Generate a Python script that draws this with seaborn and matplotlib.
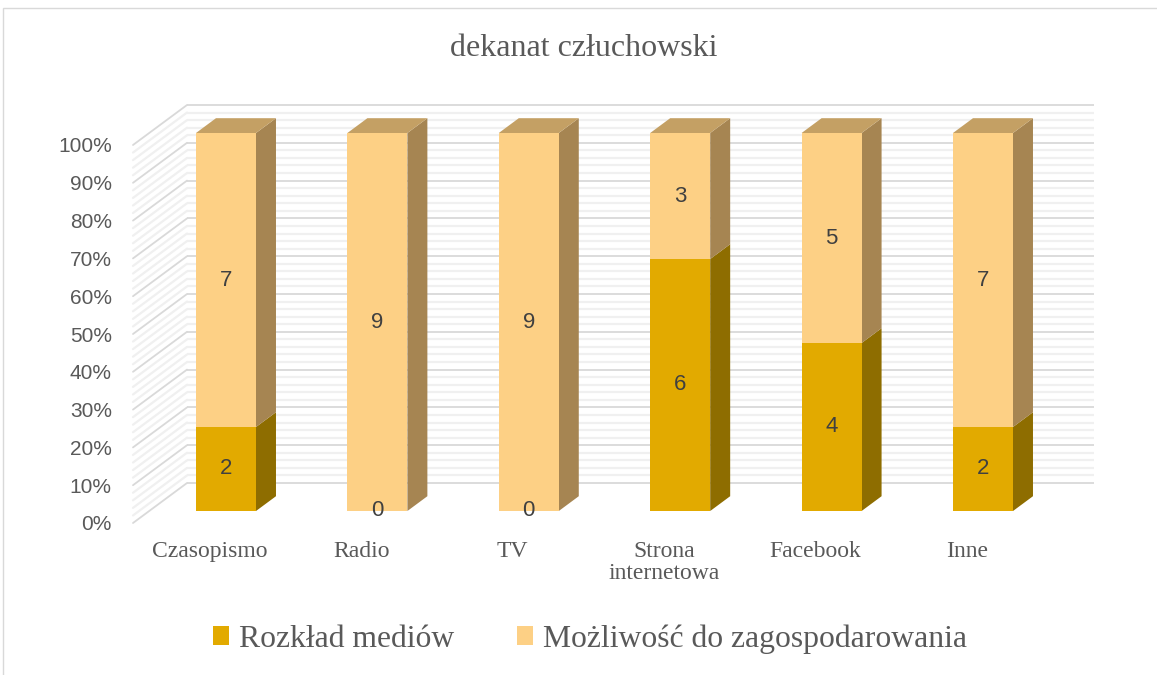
import numpy as np
import pandas as pd
import matplotlib
matplotlib.use("Agg")
import matplotlib.pyplot as plt
from matplotlib.patches import Polygon, Patch, Rectangle
import seaborn as sns

# dane z wykresu
kategorie = ['Czasopismo', 'Radio', 'TV', 'Strona\ninternetowa', 'Facebook', 'Inne']
rozklad = [2, 0, 0, 6, 4, 2]
mozliwosc = [7, 9, 9, 3, 5, 7]
serie = ['Rozkład mediów', 'Możliwość do zagospodarowania']
tytul = 'dekanat człuchowski'

kolor_ciemny = '#E2AA00'
kolor_ciemny_bok = '#8E6D00'
kolor_jasny = '#FDD085'
kolor_jasny_bok = '#A68552'
kolor_jasny_gora = '#C4A064'
szary = '#595959'

df = pd.DataFrame({'kategoria': kategorie, 'rozklad': rozklad, 'mozliwosc': mozliwosc})
df['suma'] = df['rozklad'] + df['mozliwosc']
df['p_rozklad'] = df['rozklad'] / df['suma']
df['p_calosc'] = 1.0

sns.set_style('white')
plt.rcParams['font.family'] = ['Liberation Sans', 'DejaVu Sans']

W, H = 1157, 675
fig = plt.figure(figsize=(W / 100, H / 100), dpi=100)

# obszar osi w pikselach
L, R, T, B = 125, 1110, 95, 530
ax = fig.add_axes([L / W, 1 - B / H, (R - L) / W, (B - T) / H])

# skala: 1 kategoria = 151.4 px, 100% = 378 px
PX_X, PX_Y = 151.4, 378.0
X0, Y0 = 226, 511
DX, DY = 54 / PX_X, 40 / PX_Y   # pelna glebokosc sciany
D_FRONT, D_BAR, D_BACK = -0.3, 0.37, 0.7
szer = 60 / PX_X

# sciana tylna i boczna
x_back_l = (187 - X0) / PX_X
x_back_r = (1094 - X0) / PX_X
for k in range(51):
    v = k / 50
    major = k % 5 == 0
    c = '#D9D9D9' if major else '#F0F0F0'
    lw = 1.3 if major else 1.6
    yb = v + D_BACK * DY
    ax.plot([x_back_l, x_back_r], [yb, yb], color=c, lw=lw, zorder=1, solid_capstyle='butt')
    ax.plot([x_back_l - DX, x_back_l], [v + D_FRONT * DY, yb], color=c, lw=lw, zorder=1)

# przednie sciany slupkow (seaborn)
sns.barplot(data=df, x='kategoria', y='p_calosc', color=kolor_jasny, saturation=1,
            width=szer, errorbar=None, linewidth=0, ax=ax, zorder=3)
sns.barplot(data=df, x='kategoria', y='p_rozklad', color=kolor_ciemny, saturation=1,
            width=szer, errorbar=None, linewidth=0, ax=ax, zorder=3)

# boki i gory slupkow
ox, oy = D_BAR * DX, D_BAR * DY
for i, row in df.iterrows():
    xr = i + szer / 2
    xl = i - szer / 2
    segs = [(0, row['p_rozklad'], kolor_ciemny_bok), (row['p_rozklad'], 1.0, kolor_jasny_bok)]
    for b, t, c in segs:
        if t - b <= 0:
            continue
        ax.add_patch(Polygon([(xr, b), (xr, t), (xr + ox, t + oy), (xr + ox, b + oy)],
                             closed=True, fc=c, ec='none', zorder=2))
    ax.add_patch(Polygon([(xl, 1), (xr, 1), (xr + ox, 1 + oy), (xl + ox, 1 + oy)],
                         closed=True, fc=kolor_jasny_gora, ec='none', zorder=2))
    # etykiety danych
    ax.text(i, row['p_rozklad'] / 2, str(row['rozklad']), ha='center', va='center',
            fontsize=16, color='#404040', zorder=5)
    ax.text(i, (1 + row['p_rozklad']) / 2, str(row['mozliwosc']), ha='center', va='center',
            fontsize=16, color='#404040', zorder=5)

ax.set_xlim((L - X0) / PX_X, (R - X0) / PX_X)
ax.set_ylim((Y0 - B) / PX_Y, (Y0 - T) / PX_Y)

ticks_y = np.arange(0, 11) / 10
ax.set_yticks(ticks_y + D_FRONT * DY, [f'{int(round(v * 100))}%' for v in ticks_y])
ax.set_xticks(np.arange(len(kategorie)) + D_FRONT * DX, kategorie)
ax.tick_params(axis='y', length=0, pad=9.5, labelsize=15, labelcolor=szary)
ax.tick_params(axis='x', length=0, pad=8, labelsize=17, labelcolor=szary)
for lab in ax.get_xticklabels():
    lab.set_fontfamily(['Liberation Serif', 'DejaVu Serif'])
    lab.set_linespacing(1.05)
ax.set_xlabel('')
ax.set_ylabel('')
for s in ax.spines.values():
    s.set_visible(False)
ax.set_facecolor('none')
ax.grid(False)

fig.text(584 / W, 1 - 48 / H, tytul, ha='center', va='center', fontsize=23,
         color=szary, family=['Liberation Serif', 'DejaVu Serif'])

uchwyty = [Patch(fc=kolor_ciemny, ec='none'), Patch(fc=kolor_jasny, ec='none')]
fig.legend(uchwyty, serie, loc='center', bbox_to_anchor=(590 / W, 1 - 639 / H), ncol=2,
           frameon=False, handlelength=0.5, handleheight=0.5, handletextpad=0.3,
           columnspacing=2.0, labelcolor=szary,
           prop={'family': ['Liberation Serif', 'DejaVu Serif'], 'size': 22.8})

fig.patches.append(Rectangle((3 / W, -0.01), 1.1, 1 - 8 / H + 0.01, transform=fig.transFigure,
                             fill=False, ec='#D9D9D9', lw=1))

fig.savefig('out.png', dpi=100)
